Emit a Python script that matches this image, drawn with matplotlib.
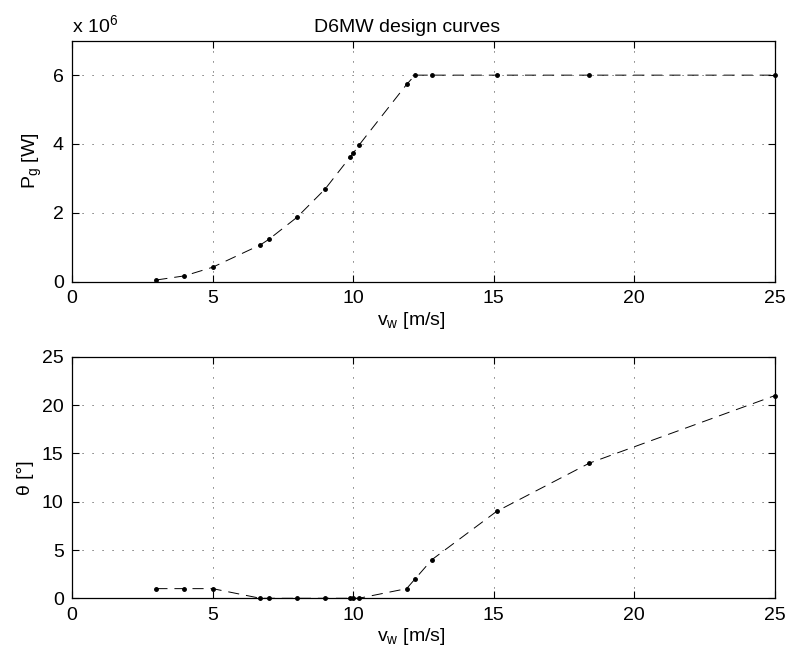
"""
D6MW design curves: generator power and pitch angle versus wind speed.
"""

import numpy as np
import matplotlib.pyplot as plt

plt.rcParams['font.family'] = ['Liberation Sans', 'DejaVu Sans']
plt.rcParams['font.size'] = 14
plt.rcParams['mathtext.default'] = 'regular'
plt.rcParams['lines.scale_dashes'] = False

# operating points
v_w = [3, 4, 5, 6.7, 7, 8, 9, 9.9, 10, 10.2, 11.9, 12.2, 12.8, 15.1, 18.4, 25]
P_g = [0.05e6, 0.17e6, 0.42e6, 1.07e6, 1.23e6, 1.87e6, 2.69e6, 3.63e6,
       3.73e6, 3.96e6, 5.73e6, 6.0e6, 6.0e6, 6.0e6, 6.0e6, 6.0e6]
theta = [1, 1, 1, 0, 0, 0, 0, 0, 0, 0, 1, 2, 4, 9, 14, 21]

x_ticks = [0, 5, 10, 15, 20, 25]
p_ticks = [0, 2, 4, 6]
th_ticks = [0, 5, 10, 15, 20, 25]

fig = plt.figure(figsize=(7.88, 6.63), dpi=100)
ax1 = fig.add_axes([0.0914, 0.5751, 0.892, 0.3635])
ax2 = fig.add_axes([0.0914, 0.0976, 0.892, 0.364])


def style(ax):
    ax.grid(True, color='#333333', linestyle=(0, (0.8, 6.4)), linewidth=0.6)
    ax.tick_params(direction='in', length=5, width=0.8, top=True, right=True,
                   pad=6)
    for s in ax.spines.values():
        s.set_linewidth(0.9)
    ax.set_xlim(0, 25)
    ax.set_xticks(x_ticks)
    ax.set_xlabel('$v_{w}$ [m/s]', labelpad=2, x=0.482)


ax1.plot(v_w, np.array(P_g) / 1e6, 'k.', ls=(0, (8, 5)), lw=0.7, ms=5,
         clip_on=False)
style(ax1)
ax1.set_ylim(0, 7)
ax1.set_yticks(p_ticks)
ax1.set_ylabel('$P_{g}$ [W]', labelpad=6)
ax1.set_title('D6MW design curves', fontsize=14, pad=6, x=0.477)
ax1.text(0, 1.02, 'x 10$^6$', transform=ax1.transAxes, fontsize=14,
         ha='left', va='bottom')

ax2.plot(v_w, theta, 'k.', ls=(0, (8, 5)), lw=0.7, ms=5, clip_on=False)
style(ax2)
ax2.set_ylim(0, 25)
ax2.set_yticks(th_ticks)
ax2.set_ylabel('θ [°]', labelpad=6)

fig.savefig('out.png', dpi=100)
